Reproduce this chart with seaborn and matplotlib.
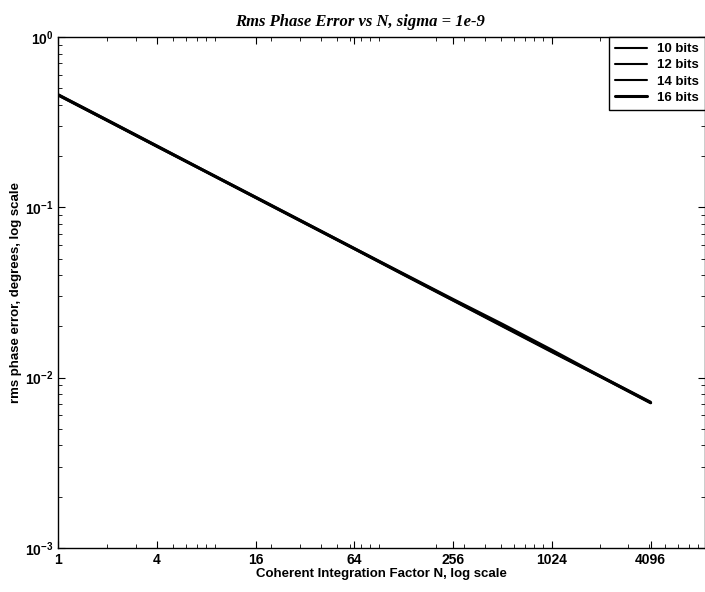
import numpy as np
import matplotlib
matplotlib.use("Agg")
import matplotlib.pyplot as plt
import matplotlib.ticker as mticker
import pandas as pd
import seaborn as sns

# data
n_values = [1, 2, 4, 8, 16, 32, 64, 128, 256, 512, 1024, 2048, 4096]
bits10 = [0.462, 0.327, 0.231, 0.163, 0.1155, 0.0817, 0.0577, 0.0409, 0.0290, 0.0207, 0.0146, 0.0102, 0.00722]
bits12 = [0.457, 0.323, 0.228, 0.1615, 0.1142, 0.0808, 0.0571, 0.0404, 0.0286, 0.0202, 0.0143, 0.0101, 0.00714]
bits14 = [0.455, 0.322, 0.2275, 0.161, 0.1138, 0.0805, 0.0569, 0.0402, 0.0284, 0.0201, 0.0142, 0.01005, 0.0071]
bits16 = [0.457, 0.3235, 0.2285, 0.1617, 0.1143, 0.0808, 0.0572, 0.0403, 0.0285, 0.0201, 0.0142, 0.0101, 0.00712]
series_names = ["10 bits", "12 bits", "14 bits", "16 bits"]
x_ticks = [1, 4, 16, 64, 256, 1024, 4096]

sns.set_theme(style="ticks")
plt.rcParams["font.family"] = ["Liberation Sans", "DejaVu Sans"]
plt.rcParams["text.color"] = "black"
plt.rcParams["axes.labelcolor"] = "black"
plt.rcParams["xtick.color"] = "black"
plt.rcParams["ytick.color"] = "black"

frames = []
for name, vals in zip(series_names, [bits10, bits12, bits14, bits16]):
    frames.append(pd.DataFrame({"N": n_values, "err": vals, "series": name}))
df = pd.concat(frames, ignore_index=True)

fig = plt.figure(figsize=(7.05, 5.92), dpi=100)
ax = fig.add_axes([58 / 705, 1 - 548 / 592, 1 - 58 / 705, (548 - 37) / 592])

widths = {"10 bits": 1.5, "12 bits": 1.5, "14 bits": 1.5, "16 bits": 2.2}
for name in series_names:
    sub = df[df.series == name]
    sns.lineplot(data=sub, x="N", y="err", ax=ax, color="black",
                 linewidth=widths[name], label=name)

ax.set_xscale("log")
ax.set_yscale("log")
ax.set_xlim(1, 2 ** 13.1)
ax.set_ylim(1e-3, 1)

ax.xaxis.set_major_locator(mticker.FixedLocator(x_ticks))
ax.xaxis.set_major_formatter(mticker.FixedFormatter([str(t) for t in x_ticks]))
ax.xaxis.set_minor_locator(mticker.LogLocator(base=10, subs=np.arange(2, 10)))
ax.xaxis.set_minor_formatter(mticker.NullFormatter())
ax.yaxis.set_major_locator(mticker.LogLocator(base=10))
ax.yaxis.set_minor_locator(mticker.LogLocator(base=10, subs=np.arange(2, 10)))

ax.tick_params(which="both", direction="in", top=True, right=True)
ax.tick_params(which="major", length=5, width=0.8, labelsize=10)
ax.tick_params(which="minor", length=3, width=0.6)
for lab in ax.get_xticklabels() + ax.get_yticklabels():
    lab.set_fontweight("bold")
for sp in ax.spines.values():
    sp.set_color("black")
    sp.set_linewidth(1.0)

ax.set_xlabel("Coherent Integration Factor N, log scale", fontsize=9.5, fontweight="bold", labelpad=1)
ax.set_ylabel("rms phase error, degrees, log scale", fontsize=9.5, fontweight="bold", labelpad=2)
ax.set_title("Rms Phase Error vs N, sigma = 1e-9", fontsize=12, fontweight="bold",
             fontstyle="italic", family="Liberation Serif", x=0.467, pad=8)

leg = ax.legend(loc="upper right", fontsize=9.5, frameon=True, fancybox=False,
                borderaxespad=0, handlelength=2.4, labelspacing=0.3,
                borderpad=0.45)
leg.get_frame().set_edgecolor("black")
leg.get_frame().set_linewidth(1.0)
leg.get_frame().set_alpha(1.0)
for t in leg.get_texts():
    t.set_fontweight("bold")

fig.savefig("out.png", dpi=100)
